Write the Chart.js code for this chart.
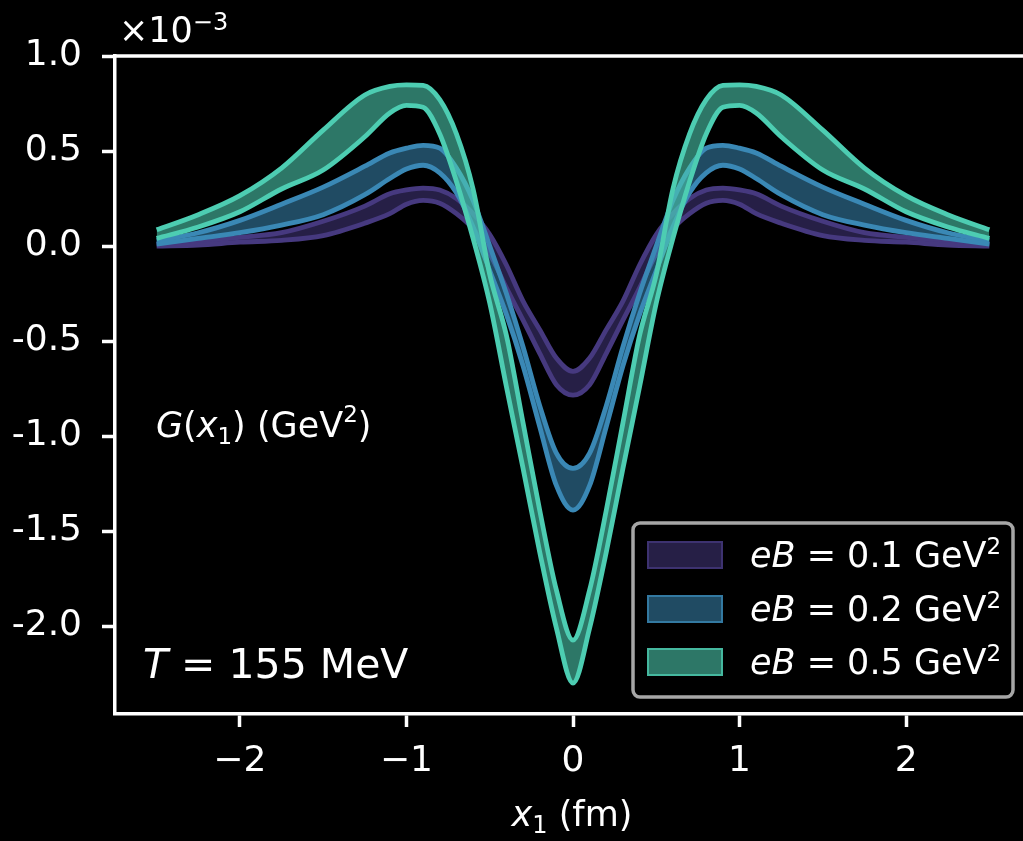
<!DOCTYPE html>
<html>
<head>
<meta charset="utf-8">
<script src="https://cdn.jsdelivr.net/npm/chart.js@4.4.1/dist/chart.umd.min.js"></script>
<style>
  html, body { margin: 0; padding: 0; background: #000; overflow: hidden; }
  #wrap { width: 1023px; height: 841px; overflow: hidden; }
  canvas { display: block; }
</style>
</head>
<body>
<div id="wrap"><canvas id="chart" width="1040" height="841"></canvas></div>
<script>
// separation x1 in fm
const x1 = [
  -2.5, -2.25, -2.0, -1.75, -1.5, -1.25, -1.1, -1.0, -0.9, -0.8, -0.7, -0.6,
  -0.5, -0.4, -0.3, -0.2, -0.1, 0.0, 0.1, 0.2, 0.3, 0.4, 0.5, 0.6, 0.7, 0.8,
  0.9, 1.0, 1.1, 1.25, 1.5, 1.75, 2.0, 2.25, 2.5
];

// G(x1) in units of 1e-3 GeV^2, upper / lower edge of each error band
const eb01Upper = [
  0.010, 0.025, 0.045, 0.070, 0.130, 0.210, 0.275, 0.295, 0.305, 0.295, 0.250, 0.170,
  0.060, -0.100, -0.290, -0.440, -0.590, -0.660, -0.590, -0.440, -0.290, -0.100, 0.060, 0.170,
  0.250, 0.295, 0.305, 0.295, 0.275, 0.210, 0.130, 0.070, 0.045, 0.025, 0.010
];
const eb01Lower = [
  0.000, 0.005, 0.020, 0.030, 0.055, 0.120, 0.170, 0.220, 0.240, 0.225, 0.170, 0.090,
  -0.040, -0.220, -0.390, -0.565, -0.730, -0.785, -0.730, -0.565, -0.390, -0.220, -0.040, 0.090,
  0.170, 0.225, 0.240, 0.220, 0.170, 0.120, 0.055, 0.030, 0.020, 0.005, 0.000
];
const eb02Upper = [
  0.028, 0.070, 0.135, 0.220, 0.310, 0.420, 0.490, 0.515, 0.530, 0.515, 0.410, 0.240,
  0.000, -0.250, -0.530, -0.840, -1.090, -1.170, -1.090, -0.840, -0.530, -0.250, 0.000, 0.240,
  0.410, 0.515, 0.530, 0.515, 0.490, 0.420, 0.310, 0.220, 0.135, 0.070, 0.028
];
const eb02Lower = [
  0.010, 0.040, 0.070, 0.110, 0.165, 0.270, 0.355, 0.405, 0.425, 0.385, 0.280, 0.100,
  -0.130, -0.360, -0.630, -0.950, -1.260, -1.390, -1.260, -0.950, -0.630, -0.360, -0.130, 0.100,
  0.280, 0.385, 0.425, 0.405, 0.355, 0.270, 0.165, 0.110, 0.070, 0.040, 0.010
];
const eb05Upper = [
  0.085, 0.165, 0.265, 0.410, 0.610, 0.795, 0.840, 0.848, 0.845, 0.770, 0.590, 0.300,
  -0.150, -0.470, -0.930, -1.390, -1.810, -2.074, -1.810, -1.390, -0.930, -0.470, -0.150, 0.300,
  0.590, 0.770, 0.845, 0.848, 0.840, 0.795, 0.610, 0.410, 0.265, 0.165, 0.085
];
const eb05Lower = [
  0.040, 0.100, 0.180, 0.300, 0.400, 0.575, 0.700, 0.740, 0.730, 0.590, 0.340, 0.040,
  -0.300, -0.740, -1.170, -1.610, -2.010, -2.300, -2.010, -1.610, -1.170, -0.740, -0.300, 0.040,
  0.340, 0.590, 0.730, 0.740, 0.700, 0.575, 0.400, 0.300, 0.180, 0.100, 0.040
];

const xTicks = [-2, -1, 0, 1, 2];
const yTicks = [-2.0, -1.5, -1.0, -0.5, 0.0, 0.5, 1.0];
const bandLabels = ['0.1', '0.2', '0.5'];

const FONT = '"DejaVu Sans", sans-serif';
const lineColors = ['#46397f', '#3a88b5', '#4dcdb2'];
const fillColors = ['rgba(70,57,127,0.55)', 'rgba(58,136,181,0.55)', 'rgba(77,205,178,0.58)'];

const pts = ys => ys.map((y, i) => ({ x: x1[i], y }));

function band(i, lower, upper) {
  const common = {
    borderColor: lineColors[i],
    borderWidth: 4.8,
    pointRadius: 0,
    cubicInterpolationMode: 'monotone',
    order: 2 - i,
  };
  return [
    { ...common, label: 'eB ' + bandLabels[i] + ' lower', data: pts(lower), fill: false },
    { ...common, label: 'eB ' + bandLabels[i], data: pts(upper), fill: '-1', backgroundColor: fillColors[i] },
  ];
}

// draw a sequence of text runs (italic / sub / superscript) from x on a baseline
function drawRuns(ctx, runs, x, y, size, align) {
  const fontOf = r => (r.italic ? 'italic ' : '') + (r.size || size) + 'px ' + FONT;
  let total = 0;
  runs.forEach(r => { ctx.font = fontOf(r); total += ctx.measureText(r.t).width; });
  let cx = align === 'center' ? x - total / 2 : x;
  ctx.textAlign = 'left';
  ctx.textBaseline = 'alphabetic';
  runs.forEach(r => {
    ctx.font = fontOf(r);
    ctx.fillText(r.t, cx, y + (r.dy || 0));
    cx += ctx.measureText(r.t).width;
  });
}

const decorations = {
  id: 'decorations',
  afterDraw(chart) {
    const ctx = chart.ctx;
    const a = chart.chartArea;
    ctx.save();
    // top spine
    ctx.strokeStyle = '#fff';
    ctx.lineWidth = 3.5;
    ctx.beginPath();
    ctx.moveTo(a.left - 1.75, a.top);
    ctx.lineTo(a.right, a.top);
    ctx.stroke();

    ctx.fillStyle = '#fff';
    // axis offset and labels
    drawRuns(ctx, [{ t: '\u00d710' }, { t: '\u22123', size: 24, dy: -12 }], 119, 42, 35);
    drawRuns(ctx, [
      { t: 'G', italic: true }, { t: '(' }, { t: 'x', italic: true },
      { t: '1', size: 23, dy: 7 }, { t: ') (GeV' }, { t: '2', size: 23, dy: -15 }, { t: ')' }
    ], 156, 437, 35);
    drawRuns(ctx, [{ t: 'T', italic: true }, { t: ' = 155 MeV' }], 143, 678, 41);
    drawRuns(ctx, [
      { t: 'x', italic: true }, { t: '1', size: 24, dy: 7 }, { t: ' (fm)' }
    ], 572, 826, 35, 'center');

    // legend
    const lx = 633, ly = 523, lw = 380, lh = 174;
    ctx.fillStyle = '#000';
    ctx.strokeStyle = '#a6a6a6';
    ctx.lineWidth = 3.5;
    ctx.beginPath();
    ctx.roundRect(lx, ly, lw, lh, 7);
    ctx.fill();
    ctx.stroke();
    const rowTop = [541, 595, 648];
    bandLabels.forEach((lab, i) => {
      ctx.fillStyle = fillColors[i];
      ctx.fillRect(647, rowTop[i], 76, 28);
      ctx.globalAlpha = 0.75;
      ctx.strokeStyle = lineColors[i];
      ctx.lineWidth = 2;
      ctx.strokeRect(648, rowTop[i] + 1, 74, 26);
      ctx.globalAlpha = 1;
      ctx.fillStyle = '#fff';
      drawRuns(ctx, [
        { t: 'eB', italic: true }, { t: ' = ' + lab + ' GeV' }, { t: '2', size: 23, dy: -13 }
      ], 750, rowTop[i] + 26, 35);
    });
    ctx.restore();
  }
};

new Chart(document.getElementById('chart'), {
  type: 'line',
  data: {
    datasets: [
      ...band(0, eb01Lower, eb01Upper),
      ...band(1, eb02Lower, eb02Upper),
      ...band(2, eb05Lower, eb05Upper),
    ]
  },
  options: {
    responsive: false,
    animation: false,
    layout: { padding: { top: 56, right: 9, left: 0, bottom: 0 } },
    plugins: {
      legend: { display: false },
      tooltip: { enabled: false },
      filler: { drawTime: 'beforeDatasetDraw' },
    },
    scales: {
      x: {
        type: 'linear',
        min: -2.75,
        max: 2.75,
        afterBuildTicks: s => { s.ticks = xTicks.map(v => ({ value: v })); },
        afterFit: s => { s.height = 841 - 714; },
        ticks: {
          color: '#fff',
          font: { family: FONT, size: 36 },
          padding: 13,
          maxRotation: 0,
          callback: v => (v < 0 ? '\u2212' + Math.abs(v) : String(v)),
        },
        grid: { drawOnChartArea: false, drawTicks: true, tickLength: 13, tickWidth: 3.5, tickColor: '#fff' },
        border: { display: true, color: '#fff', width: 3.5 },
      },
      y: {
        type: 'linear',
        min: -2.463,
        max: 1.0,
        afterBuildTicks: s => { s.ticks = yTicks.map(v => ({ value: v })); },
        afterFit: s => { s.width = 115; },
        ticks: {
          color: '#fff',
          font: { family: FONT, size: 36 },
          padding: 20,
          callback: v => (Math.abs(v) < 1e-9 ? '0.0' : v.toFixed(1)),
        },
        grid: { drawOnChartArea: false, drawTicks: true, tickLength: 13, tickWidth: 3.5, tickColor: '#fff' },
        border: { display: true, color: '#fff', width: 3.5 },
      }
    }
  },
  plugins: [decorations]
});
</script>
</body>
</html>
